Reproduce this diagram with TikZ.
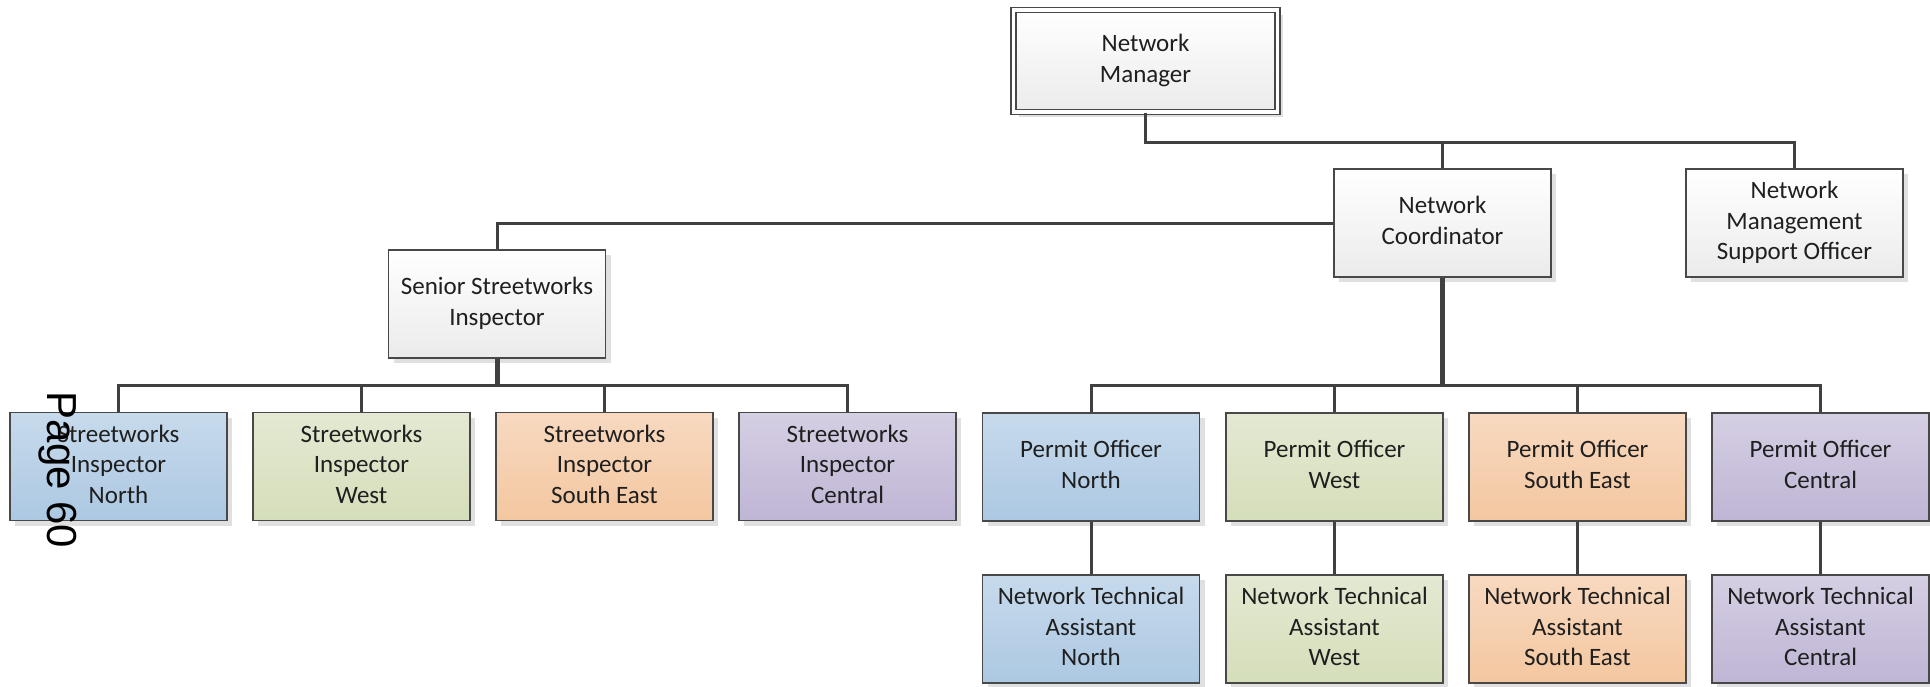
\documentclass[tikz,border=0pt]{standalone}
\usepackage{fontspec}
\setmainfont{Carlito}
\newfontfamily\pagefont{Liberation Sans}
\usetikzlibrary{shadows}
\definecolor{linec}{RGB}{64,64,64}
\definecolor{bordc}{RGB}{72,72,72}
\definecolor{blueT}{RGB}{199,218,236}
\definecolor{blueB}{RGB}{172,200,226}
\definecolor{greenT}{RGB}{227,233,210}
\definecolor{greenB}{RGB}{213,222,186}
\definecolor{orangeT}{RGB}{248,217,192}
\definecolor{orangeB}{RGB}{243,199,160}
\definecolor{purpleT}{RGB}{213,207,227}
\definecolor{purpleB}{RGB}{191,181,213}
\definecolor{whiteB}{RGB}{235,235,235}
\tikzset{
  orgbox/.style={draw=bordc, line width=1.8pt, minimum width=217pt, minimum height=108pt,
    inner sep=0pt, align=center, font=\fontsize{25}{30.5}\selectfont, text=black!88,
    text depth=5pt,
    drop shadow={shadow xshift=5pt, shadow yshift=-5pt, fill=black!12, opacity=1}},
  plainbox/.style={orgbox, top color=white, bottom color=whiteB},
  bluebox/.style={orgbox, top color=blueT, bottom color=blueB},
  greenbox/.style={orgbox, top color=greenT, bottom color=greenB},
  orangebox/.style={orgbox, top color=orangeT, bottom color=orangeB},
  purplebox/.style={orgbox, top color=purpleT, bottom color=purpleB},
  conn/.style={draw=linec, line width=3pt},
  trunk/.style={draw=linec, line width=5pt},
}
\begin{document}
\begin{tikzpicture}[x=1pt,y=1pt]
\useasboundingbox (0,0) rectangle (1930,-686);
% top
\node[plainbox, minimum width=264pt, minimum height=102pt, line width=1.5pt,
      double=white, double distance=3.5pt] (nm) at (1145.5,-61) {Network\\Manager};
\node[plainbox] (nc) at (1442.5,-223) {Network\\Coordinator};
\node[plainbox] (nmso) at (1794.5,-223) {Network\\Management\\Support Officer};
\node[plainbox] (ssi) at (497,-304) {Senior Streetworks\\Inspector};
% left row
\node[bluebox]   (si1) at (118.5,-466.5) {Streetworks\\Inspector\\North};
\node[greenbox]  (si2) at (361.5,-466.5) {Streetworks\\Inspector\\West};
\node[orangebox] (si3) at (604.5,-466.5) {Streetworks\\Inspector\\South East};
\node[purplebox] (si4) at (847.5,-466.5) {Streetworks\\Inspector\\Central};
% right row
\node[bluebox]   (po1) at (1091,-467) {Permit Officer\\North};
\node[greenbox]  (po2) at (1334.5,-467) {Permit Officer\\West};
\node[orangebox] (po3) at (1577.5,-467) {Permit Officer\\South East};
\node[purplebox] (po4) at (1820.5,-467) {Permit Officer\\Central};
% bottom row
\node[bluebox]   (nta1) at (1091,-629) {Network Technical\\Assistant\\North};
\node[greenbox]  (nta2) at (1334.5,-629) {Network Technical\\Assistant\\West};
\node[orangebox] (nta3) at (1577.5,-629) {Network Technical\\Assistant\\South East};
\node[purplebox] (nta4) at (1820.5,-629) {Network Technical\\Assistant\\Central};
% junctions
\coordinate (j1) at (1145.5,-142);
\coordinate (j2) at (497,-385);
% connectors
\draw[conn] (nm.south) -- (nm.south |- j1) -| (nmso.north);
\draw[conn] (nc.north) -- (nc.north |- j1);
\draw[conn] (nc.west) -| (ssi.north);
\draw[trunk] (ssi.south) -- (ssi.south |- j2);
\draw[conn] (si1.north) -- (si1.north |- j2) -- (si4.north |- j2) -- (si4.north);
\draw[conn] (si2.north) -- (si2.north |- j2);
\draw[conn] (si3.north) -- (si3.north |- j2);
\draw[trunk] (nc.south) -- (nc.south |- j2);
\draw[conn] (po1.north) -- (po1.north |- j2) -- (po4.north |- j2) -- (po4.north);
\draw[conn] (po2.north) -- (po2.north |- j2);
\draw[conn] (po3.north) -- (po3.north |- j2);
\draw[conn] (po1.south) -- (nta1.north);
\draw[conn] (po2.south) -- (nta2.north);
\draw[conn] (po3.south) -- (nta3.north);
\draw[conn] (po4.south) -- (nta4.north);
% page number
\node[font=\pagefont\fontsize{42}{42}\selectfont, rotate=-90, inner sep=0pt] (pg) at (58,-470) {Page 60};
\end{tikzpicture}
\end{document}
